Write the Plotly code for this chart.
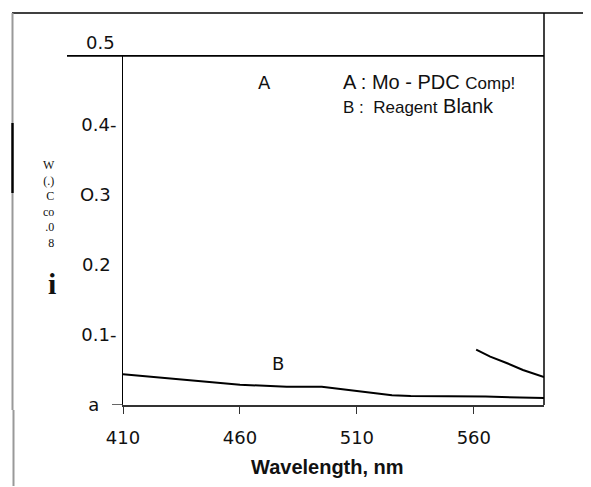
import plotly.graph_objects as go

# ---- data ----
wl_A = [561, 567, 574, 581, 590]
abs_A = [0.079, 0.069, 0.060, 0.050, 0.040]

wl_B = [410, 460, 480, 495, 510, 525, 533, 565, 590]
abs_B = [0.044, 0.029, 0.026, 0.026, 0.020, 0.014, 0.013, 0.012, 0.010]

x_tick_vals = [410, 460, 510, 560]
x_tick_text = ["410", "460", "510", "560"]
y_tick_vals = [0, 0.1, 0.2, 0.3, 0.4]
y_tick_text = ["a\u00a0\u00a0\u00a0", "0.1-", "0.2\u00a0", "O.3\u00a0", "0.4-"]
y_top_val = 0.5
y_top_text = "0.5"

series_labels = ["A", "B"]
label_pos = [(470.5, 0.461), (476.4, 0.0595)]

legend_line1 = "A : Mo - PDC <span style='font-size:17px'>Comp!</span>"
legend_line2 = "<span style='font-size:17px'>B :\u00a0 Reagent</span> Blank"
x_title = "<b>Wavelength, nm</b>"
y_title_bits = ["W", "(.)", "C", "co", ".0", "8"]
y_title_tail = "i"

# ---- layout geometry (page body has an 8px margin) ----
OFF = 8
W, H = 591 - OFF, 487 - OFF
L, R, T, B = 123 - OFF, 47, 55 - OFF, 82
PW, PH = W - L - R, H - T - B
X0, Y0 = 123, 405  # plot origin in window pixels


def px(xw):
    return (xw - X0) / PW


def py(yw):
    return (Y0 - yw) / PH


fig = go.Figure()
fig.add_trace(go.Scatter(x=wl_B, y=abs_B, mode="lines",
                         line=dict(color="black", width=2), showlegend=False))
fig.add_trace(go.Scatter(x=wl_A, y=abs_A, mode="lines",
                         line=dict(color="black", width=2), showlegend=False))


def vline(xw, y0w, y1w, color, width):
    return dict(type="line", xref="paper", yref="paper", x0=px(xw), x1=px(xw),
                y0=py(y0w), y1=py(y1w), layer="above", line=dict(color=color, width=width))


shapes = [
    # outer frame top
    dict(type="line", xref="paper", yref="paper", x0=px(12), x1=px(600), y0=py(13), y1=py(13),
         line=dict(color="black", width=1.5)),
    # left frame line (gray, darker in the middle)
    vline(12.5, 13, 123, "#999999", 2),
    vline(12.5, 123, 193, "black", 2.5),
    vline(12.5, 193, 410, "#999999", 2),
    vline(13.5, 410, 486, "#999999", 2),
    # right line
    dict(type="line", xref="paper", yref="paper", x0=1, x1=1, y0=0, y1=py(13),
         line=dict(color="black", width=1.5)),
    # thick top line at 0.5
    dict(type="line", xref="paper", yref="y", x0=px(67), x1=1, y0=y_top_val, y1=y_top_val,
         line=dict(color="black", width=3.5)),
    # small y tick at 0
    dict(type="line", xref="paper", yref="y", x0=px(112), x1=0, y0=0, y1=0,
         line=dict(color="#333", width=1.5)),
]

annotations = [
    dict(xref="paper", yref="y", x=0, y=y_top_val, xanchor="right", yanchor="bottom",
         xshift=-6, yshift=0, text=y_top_text, showarrow=False,
         font=dict(family="DejaVu Sans", size=18, color="#111")),
    dict(xref="x", yref="y", x=label_pos[0][0], y=label_pos[0][1], text=series_labels[0],
         showarrow=False, font=dict(family="DejaVu Sans", size=18, color="#111")),
    dict(xref="x", yref="y", x=label_pos[1][0], y=label_pos[1][1], text=series_labels[1],
         showarrow=False, font=dict(family="DejaVu Sans", size=18, color="#111")),
    dict(xref="paper", yref="paper", x=px(341), y=py(82), xanchor="left", yanchor="middle",
         text=legend_line1, showarrow=False,
         font=dict(family="Liberation Sans", size=20, color="#111")),
    dict(xref="paper", yref="paper", x=px(341), y=py(106), xanchor="left", yanchor="middle",
         text=legend_line2, showarrow=False,
         font=dict(family="Liberation Sans", size=20, color="#111")),
    dict(xref="paper", yref="paper", x=px(327), y=py(467), xanchor="center", yanchor="middle",
         text=x_title, showarrow=False,
         font=dict(family="Liberation Sans", size=20, color="#111")),
    # garbled rotated y-axis title (as it appears in the scan)
    dict(xref="paper", yref="paper", x=px(57), y=py(204), xanchor="right", yanchor="middle",
         text="<br>".join(y_title_bits), align="right", showarrow=False,
         font=dict(family="Liberation Serif", size=12, color="#111")),
    dict(xref="paper", yref="paper", x=px(58), y=py(283), xanchor="right", yanchor="middle",
         text=f"<b>{y_title_tail}</b>", showarrow=False,
         font=dict(family="Liberation Serif", size=30, color="#111")),
]

fig.update_layout(
    width=W, height=H,
    margin=dict(l=L, r=R, t=T, b=B, pad=0),
    paper_bgcolor="white", plot_bgcolor="white",
    shapes=shapes, annotations=annotations,
    xaxis=dict(range=[410, 590], tickvals=x_tick_vals, ticktext=x_tick_text,
               showgrid=False, zeroline=False, showline=True, linecolor="#333", linewidth=2,
               ticks="outside", ticklen=7, tickcolor="#333", ticklabelstandoff=8,
               tickfont=dict(family="DejaVu Sans", size=18, color="#111")),
    yaxis=dict(range=[0, 0.5], tickvals=y_tick_vals, ticktext=y_tick_text,
               showgrid=False, zeroline=False, showline=True, linecolor="black", linewidth=1,
               ticks="", ticklabelstandoff=2,
               tickfont=dict(family="DejaVu Sans", size=18, color="#111")),
)

fig.write_html("out.html")
